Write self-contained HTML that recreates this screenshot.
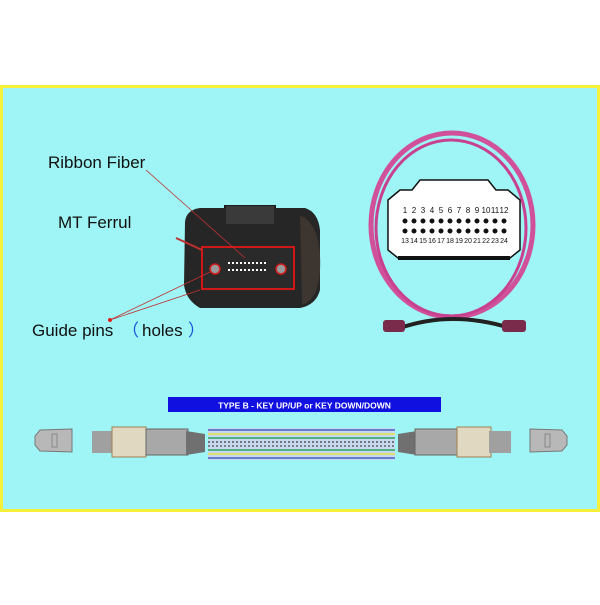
<!DOCTYPE html>
<html><head><style>
body{margin:0;background:#fff;width:600px;height:600px;overflow:hidden;font-family:"Liberation Sans",sans-serif}
</style></head><body>
<svg width="600" height="600" viewBox="0 0 600 600" xmlns="http://www.w3.org/2000/svg">
<rect x="1.5" y="86.5" width="597" height="424" fill="#9ff5f5" stroke="#f6f03a" stroke-width="3"/>
<text x="48" y="168" font-size="17" fill="#111">Ribbon Fiber</text>
<text x="58" y="228" font-size="17" fill="#111">MT Ferrul</text>
<text x="32" y="336" font-size="17" fill="#111">Guide pins</text>
<text x="122" y="336" font-size="17" fill="#1850e0">（</text>
<text x="142" y="336" font-size="17" fill="#111">holes</text>
<text x="188" y="336" font-size="17" fill="#1850e0">）</text>
<!-- connector photo -->
<rect x="224" y="205" width="52" height="20" fill="#1e1e1e"/>
<path d="M185 222 Q186 210 200 208 L305 208 Q318 212 320 230 L320 290 Q316 305 300 308 L200 308 Q186 300 184 285 Z" fill="#262626"/>
<rect x="226" y="206" width="48" height="18" fill="#3a3a3a"/>
<path d="M300 215 Q322 225 320 270 Q318 300 302 305 Z" fill="#3d3530"/>
<rect x="202" y="247" width="92" height="42" fill="#2a2a2a" stroke="#d01818" stroke-width="2"/>
<circle cx="215" cy="269" r="5" fill="#9a9a9a" stroke="#d01818" stroke-width="1.5"/>
<circle cx="281" cy="269" r="5" fill="#9a9a9a" stroke="#d01818" stroke-width="1.5"/>
<line x1="228" y1="263" x2="268" y2="263" stroke="#fff" stroke-width="2" stroke-dasharray="2 2"/>
<line x1="228" y1="270" x2="268" y2="270" stroke="#fff" stroke-width="2" stroke-dasharray="2 2"/>
<line x1="146" y1="170" x2="245" y2="258" stroke="#c03030" stroke-width="0.8"/>
<line x1="176" y1="238" x2="202" y2="250" stroke="#c03030" stroke-width="2"/>
<line x1="110" y1="320" x2="210" y2="272" stroke="#c03030" stroke-width="0.8"/>
<line x1="110" y1="320" x2="200" y2="290" stroke="#c03030" stroke-width="0.8"/>
<circle cx="110" cy="320" r="2" fill="#e02020"/>
<!-- cable -->
<ellipse cx="452" cy="225" rx="81" ry="92" fill="none" stroke="#d0509a" stroke-width="5"/>
<ellipse cx="451" cy="228" rx="75" ry="88" fill="none" stroke="#c84090" stroke-width="3"/>
<path d="M400 328 Q452 310 510 328" fill="none" stroke="#222" stroke-width="4"/>
<rect x="383" y="320" width="22" height="12" rx="3" fill="#7a2a4a"/>
<rect x="502" y="320" width="24" height="12" rx="3" fill="#7a2a4a"/>
<!-- pinout -->
<path d="M388 200 L400 190 L412 190 L420 180 L488 180 L496 190 L508 190 L520 200 L520 250 L510 258 L398 258 L388 250 Z" fill="#fff" stroke="#111" stroke-width="1.5"/>
<rect x="398" y="256" width="112" height="4" fill="#111"/>
<g font-size="8" fill="#111" font-family="Liberation Sans Narrow,Liberation Sans,sans-serif" text-anchor="middle">
<text x="405" y="213">1</text><text x="414" y="213">2</text><text x="423" y="213">3</text><text x="432" y="213">4</text><text x="441" y="213">5</text><text x="450" y="213">6</text><text x="459" y="213">7</text><text x="468" y="213">8</text><text x="477" y="213">9</text><text x="486" y="213">10</text><text x="495" y="213">11</text><text x="504" y="213">12</text>
</g>
<g font-size="7" fill="#111" font-family="Liberation Sans Narrow,Liberation Sans,sans-serif" text-anchor="middle">
<text x="405" y="243">13</text><text x="414" y="243">14</text><text x="423" y="243">15</text><text x="432" y="243">16</text><text x="441" y="243">17</text><text x="450" y="243">18</text><text x="459" y="243">19</text><text x="468" y="243">20</text><text x="477" y="243">21</text><text x="486" y="243">22</text><text x="495" y="243">23</text><text x="504" y="243">24</text>
</g>
<line x1="405" y1="221" x2="505" y2="221" stroke="#111" stroke-width="5" stroke-dasharray="0 9" stroke-linecap="round"/>
<line x1="405" y1="231" x2="505" y2="231" stroke="#111" stroke-width="5" stroke-dasharray="0 9" stroke-linecap="round"/>
<!-- banner -->
<rect x="168" y="397" width="273" height="15" fill="#1010e0"/>
<text x="304.5" y="408.5" font-size="8.5" font-weight="bold" fill="#fff" text-anchor="middle">TYPE B - KEY UP/UP or KEY DOWN/DOWN</text>
<!-- fibers -->
<rect x="208" y="428" width="187" height="32" fill="#c8d8f0"/>
<g stroke-width="1.5">
<line x1="208" y1="430" x2="395" y2="430" stroke="#4060c0"/>
<line x1="208" y1="434" x2="395" y2="434" stroke="#e0e040"/>
<line x1="208" y1="438" x2="395" y2="438" stroke="#30a060"/>
<line x1="208" y1="442" x2="395" y2="442" stroke="#555" stroke-dasharray="2 2"/>
<line x1="208" y1="446" x2="395" y2="446" stroke="#666" stroke-dasharray="2 2"/>
<line x1="208" y1="450" x2="395" y2="450" stroke="#30a060"/>
<line x1="208" y1="454" x2="395" y2="454" stroke="#e0e040"/>
<line x1="208" y1="458" x2="395" y2="458" stroke="#4060c0"/>
</g>
<!-- left connectors -->
<path d="M40 430 L72 429 L72 452 L40 451 L35 445 L35 436 Z" fill="#b8b8b8" stroke="#777"/>
<rect x="52" y="434" width="5" height="13" fill="none" stroke="#888"/>
<rect x="92" y="431" width="22" height="22" fill="#a0a0a0"/>
<rect x="112" y="427" width="34" height="30" fill="#e0d8c0" stroke="#a08050"/>
<rect x="146" y="429" width="42" height="26" fill="#a8a8a8" stroke="#666"/>
<path d="M186 431 L205 434 L205 452 L186 455 Z" fill="#707070"/>
<!-- right connectors -->
<path d="M398 434 L417 431 L417 455 L398 452 Z" fill="#707070"/>
<rect x="415" y="429" width="42" height="26" fill="#a8a8a8" stroke="#666"/>
<rect x="457" y="427" width="34" height="30" fill="#e0d8c0" stroke="#a08050"/>
<rect x="489" y="431" width="22" height="22" fill="#a0a0a0"/>
<path d="M530 429 L562 430 L567 436 L567 445 L562 451 L530 452 Z" fill="#b8b8b8" stroke="#777"/>
<rect x="545" y="434" width="5" height="13" fill="none" stroke="#888"/>
</svg>
</body></html>
